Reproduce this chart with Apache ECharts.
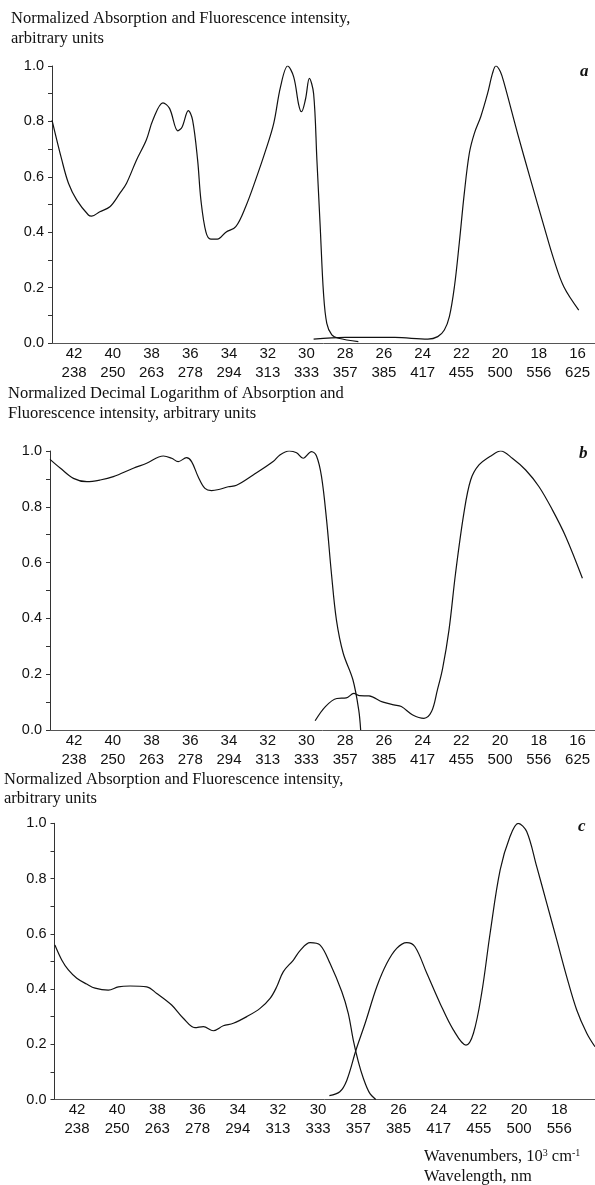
<!DOCTYPE html>
<html>
<head>
<meta charset="utf-8">
<script src="https://cdn.jsdelivr.net/npm/echarts@6/dist/echarts.min.js"></script>
<style>
  html, body { margin: 0; padding: 0; background: #fff; }
  #chart { width: 595px; height: 1185px; }
</style>
</head>
<body>
<div id="chart"></div>
<script>
// --- tick labels ---
const wavenumberTicks = [42, 40, 38, 36, 34, 32, 30, 28, 26, 24, 22, 20, 18, 16];
const wavelengthTicks = [238, 250, 263, 278, 294, 313, 333, 357, 385, 417, 455, 500, 556, 625];
const wavenumberTicksC = [42, 40, 38, 36, 34, 32, 30, 28, 26, 24, 22, 20, 18];

// --- panel a: absorption / fluorescence ---
const absA = [[43.14,0.805],[42.63,0.66],[42.29,0.577],[41.86,0.516],[41.26,0.462],[41.09,0.458],[40.67,0.474],
  [40.15,0.492],[39.64,0.54],[39.29,0.577],[38.78,0.66],[38.27,0.733],[37.93,0.805],[37.41,0.867],[37.07,0.847],
  [36.64,0.766],[36.42,0.78],[36.1,0.839],[35.88,0.805],[35.62,0.66],[35.45,0.516],[35.19,0.40],[34.94,0.375],
  [34.6,0.375],[34.16,0.40],[33.65,0.42],[33.14,0.492],[32.63,0.588],[32.1,0.697],[31.69,0.793],[31.34,0.925],
  [30.97,1.0],[30.66,0.961],[30.4,0.86],[30.26,0.835],[30.05,0.88],[29.85,0.955],[29.63,0.90],[29.46,0.66],
  [29.29,0.42],[29.12,0.18],[28.95,0.071],[28.69,0.029],[28.35,0.017],[27.32,0.005]];
const flA = [[29.63,0.014],[28.0,0.02],[25.44,0.02],[23.73,0.014],[23.22,0.023],[22.88,0.047],[22.62,0.095],
  [22.36,0.203],[22.11,0.36],[21.85,0.54],[21.59,0.685],[21.33,0.757],[21.0,0.817],[20.65,0.90],[20.39,0.974],
  [20.22,1.0],[19.99,0.98],[19.79,0.937],[19.1,0.757],[18.42,0.588],[17.73,0.42],[17.22,0.30],[16.71,0.203],[15.94,0.119]];

// --- panel b: decimal logarithm ---
const absB = [[43.24,0.97],[42.7,0.938],[42.03,0.902],[41.34,0.89],[40.65,0.896],[39.97,0.908],[38.94,0.938],
  [38.25,0.956],[37.39,0.982],[36.96,0.974],[36.62,0.962],[36.19,0.976],[35.93,0.962],[35.59,0.908],[35.24,0.866],
  [34.9,0.858],[34.47,0.863],[34.04,0.872],[33.61,0.877],[32.75,0.914],[31.72,0.962],[31.37,0.986],[30.89,1.0],
  [30.51,0.994],[30.17,0.974],[29.74,0.998],[29.48,0.982],[29.22,0.908],[28.96,0.753],[28.71,0.562],[28.45,0.394],
  [28.1,0.275],[27.6,0.18],[27.3,0.072],[27.2,0.0]];
const flB = [[29.55,0.033],[29.02,0.084],[28.43,0.113],[27.94,0.115],[27.55,0.131],[27.26,0.123],[26.77,0.122],
  [26.08,0.101],[25.49,0.09],[25.1,0.084],[24.51,0.054],[23.93,0.042],[23.54,0.066],[23.24,0.143],[22.97,0.22],
  [22.64,0.358],[22.3,0.562],[21.87,0.777],[21.52,0.896],[21.09,0.95],[20.4,0.986],[19.97,1.0],[19.37,0.974],
  [18.68,0.932],[17.99,0.872],[17.3,0.789],[16.61,0.693],[15.75,0.544]];

// --- panel c ---
const absC = [[43.1,0.559],[42.76,0.505],[42.43,0.469],[42.01,0.439],[41.52,0.418],[41.1,0.403],[40.44,0.396],
  [39.94,0.408],[39.36,0.411],[38.53,0.408],[38.03,0.384],[37.29,0.342],[36.71,0.294],[36.13,0.26],[35.71,0.264],
  [35.22,0.249],[34.72,0.267],[34.22,0.276],[33.55,0.30],[32.89,0.33],[32.39,0.366],[32.06,0.408],[31.73,0.463],
  [31.23,0.505],[30.9,0.539],[30.4,0.568],[29.9,0.559],[29.41,0.493],[28.82,0.39],[28.5,0.312],[28.25,0.215],
  [28.0,0.137],[27.75,0.077],[27.45,0.025],[27.13,0.0]];
const flC = [[29.44,0.014],[28.92,0.028],[28.57,0.07],[28.11,0.18],[27.66,0.276],[27.08,0.408],[26.58,0.493],
  [26.09,0.547],[25.59,0.568],[25.18,0.553],[24.59,0.457],[23.93,0.348],[23.27,0.252],[22.64,0.197],[22.27,0.24],
  [21.86,0.385],[21.44,0.602],[20.94,0.831],[20.45,0.952],[20.04,1.0],[19.62,0.97],[19.12,0.843],[18.62,0.71],
  [18.12,0.577],[17.63,0.445],[17.13,0.324],[16.63,0.24],[16.22,0.191]];

const SERIF = "'Liberation Serif', 'Times New Roman', serif";
const SANS = "'Liberation Sans', Arial, sans-serif";
const INK = '#111';

const chart = echarts.init(document.getElementById('chart'), null, { renderer: 'canvas' });

// x 轴：波数（倒序）+ 波长两行标签
const makeX = (gridIndex, min, max, ticks) => ({
  type: 'value',
  gridIndex,
  inverse: true,
  min, max,
  axisLine: { show: true, lineStyle: { color: '#555', width: 1 } },
  axisTick: { show: false },
  splitLine: { show: false },
  axisLabel: {
    customValues: ticks,
    margin: 1,
    color: INK,
    fontFamily: SANS,
    fontSize: 15,
    lineHeight: 19,
    formatter: (v) => {
      const i = wavenumberTicks.indexOf(Math.round(v));
      return i < 0 ? '' : wavenumberTicks[i] + '\n' + wavelengthTicks[i];
    }
  }
});

const makeY = (gridIndex) => ({
  type: 'value',
  gridIndex,
  min: 0, max: 1, interval: 0.1,
  axisLine: { show: true, lineStyle: { color: '#333', width: 1 } },
  axisTick: { show: true, inside: false, length: 4, lineStyle: { color: '#333' } },
  splitLine: { show: false },
  axisLabel: {
    margin: 8,
    color: INK,
    fontFamily: SANS,
    fontSize: 14.5,
    formatter: (v) => (Math.round(v * 10) % 2 === 0 ? v.toFixed(1) : '')
  }
});

const line = (data, idx) => ({
  type: 'line',
  data,
  xAxisIndex: idx,
  yAxisIndex: idx,
  smooth: 0.35,
  showSymbol: false,
  symbol: 'none',
  silent: true,
  lineStyle: { color: INK, width: 1.2 },
  clip: true
});

const txt = (text, x, y, extra = {}) => ({
  type: 'text',
  x, y,
  silent: true,
  style: Object.assign({
    text,
    fill: INK,
    font: `16.5px ${SERIF}`,
    align: 'left', verticalAlign: 'middle',
    textAlign: 'left', textVerticalAlign: 'middle'
  }, extra)
});

const option = {
  backgroundColor: '#fff',
  animation: false,
  grid: [
    { left: 52, top: 66, width: 543, height: 277 },
    { left: 50, top: 451, width: 545, height: 279 },
    { left: 54.5, top: 823.3, width: 540.5, height: 276.2 }
  ],
  xAxis: [
    makeX(0, 15.1, 43.14, wavenumberTicks),
    makeX(1, 15.1, 43.24, wavenumberTicks),
    makeX(2, 16.22, 43.12, wavenumberTicksC)
  ],
  yAxis: [makeY(0), makeY(1), makeY(2)],
  series: [
    line(absA, 0), line(flA, 0),
    line(absB, 1), line(flB, 1),
    line(absC, 2), line(flC, 2)
  ],
  graphic: [
    txt('Normalized Absorption and Fluorescence intensity,', 11, 19),
    txt('arbitrary units', 11, 39),
    txt('Normalized Decimal Logarithm of Absorption and', 8, 394),
    txt('Fluorescence intensity, arbitrary units', 8, 414),
    txt('Normalized Absorption and Fluorescence intensity,', 4, 780),
    txt('arbitrary units', 4, 799),
    txt('a', 580, 72, { font: `italic bold 17px ${SERIF}` }),
    txt('b', 579, 454, { font: `italic bold 17px ${SERIF}` }),
    txt('c', 578, 827, { font: `italic bold 17px ${SERIF}` }),
    txt('Wavenumbers, 10{s|3} cm{s|-1}', 424, 1157, {
      rich: { s: { fontSize: 10, fontFamily: SERIF, verticalAlign: 'top', lineHeight: 10 } },
      lineHeight: 17
    }),
    txt('Wavelength, nm', 424, 1177)
  ]
};

chart.setOption(option);
window.addEventListener('resize', () => chart.resize());
</script>
</body>
</html>
